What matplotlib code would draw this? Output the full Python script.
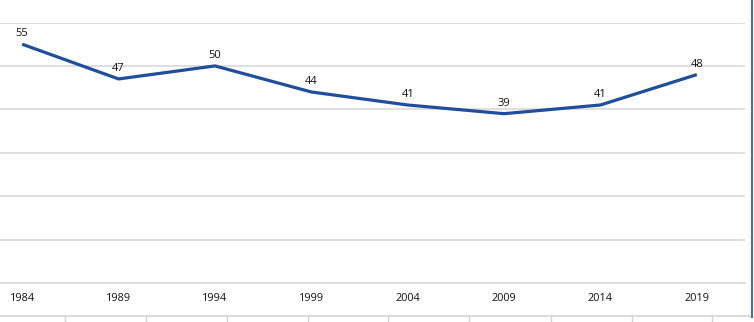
import matplotlib.pyplot as plt
from matplotlib.lines import Line2D

years = ["1984", "1989", "1994", "1999", "2004", "2009", "2014", "2019"]
values = [55, 47, 50, 44, 41, 39, 41, 48]

W, H = 754, 322
fig = plt.figure(figsize=(W / 100, H / 100), dpi=100)
plt.rcParams['font.family'] = ['Open Sans', 'DejaVu Sans']

# plot area: left edge runs off the sheet, value 0 at y=283, 60 at y=22.5
left, right = -26, 745
bottom, top = 283, 22.5
ax = fig.add_axes([left / W, 1 - bottom / H, (right - left) / W, (bottom - top) / H])

x = list(range(len(years)))
ax.plot(x, values, color="#1f4e9c", linewidth=2.3, solid_capstyle="butt")
for xi, v in zip(x, values):
    ax.annotate(str(v), (xi, v), xytext=(0, 3.5), textcoords="offset points",
                ha="center", va="bottom", fontsize=8, color="#111111")

ax.set_xlim(-0.5, len(years) - 0.5)
ax.set_ylim(0, 60)
ax.set_yticks(range(0, 61, 10))
ax.set_yticklabels([])
ax.set_xticks(x)
ax.set_xticklabels(years, fontsize=7.8, color="#111111")
ax.tick_params(axis="y", length=0)
ax.tick_params(axis="x", length=0, pad=7.5)
ax.grid(axis="y", color="#d9d9d9", linewidth=1.2)
ax.set_axisbelow(True)
for s in ["top", "right", "left"]:
    ax.spines[s].set_visible(False)
ax.spines["bottom"].set_color("#d9d9d9")
ax.spines["bottom"].set_linewidth(1.2)

# worksheet cell borders below the chart and the frame on the right
def px_line(xs, ys, **kw):
    fig.add_artist(Line2D([v / W for v in xs], [1 - v / H for v in ys],
                          transform=fig.transFigure, **kw))

px_line([0, 751], [315.5, 315.5], color="#d4d4d4", linewidth=1.2)
for cx in [65, 146, 227, 308, 388, 469, 551, 632, 712]:
    px_line([cx, cx], [316, 322], color="#d4d4d4", linewidth=1.0)
px_line([752, 752], [0, 317], color="#4a6fa5", linewidth=1.5)

fig.savefig("out.png", dpi=100, facecolor="white")
